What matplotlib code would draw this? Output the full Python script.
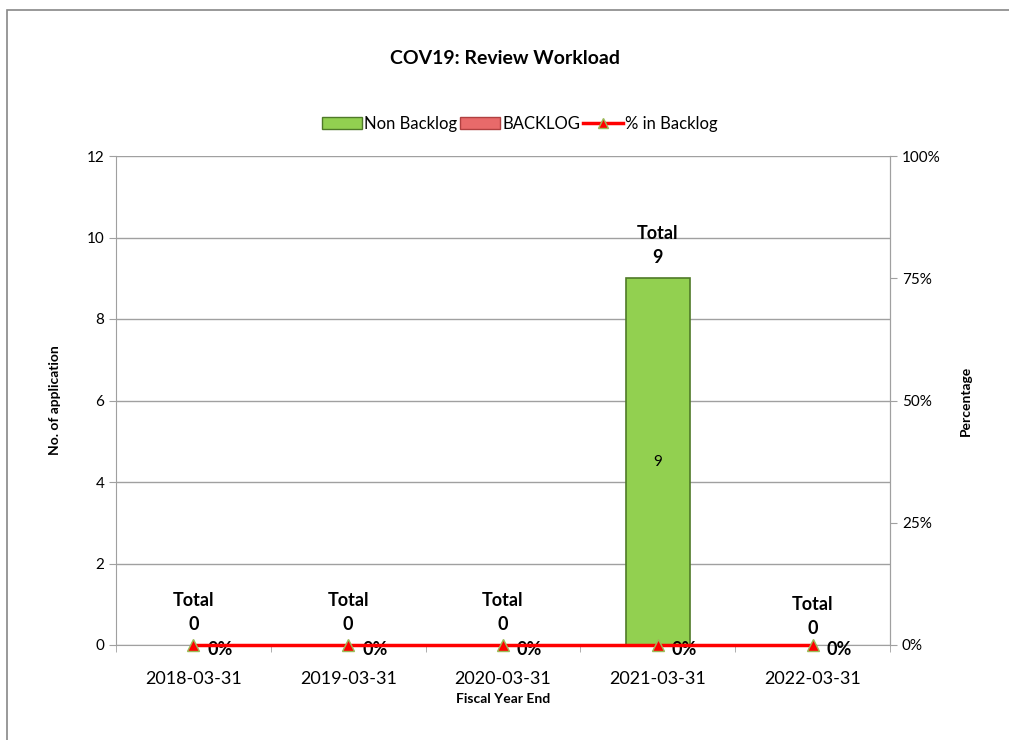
import matplotlib
matplotlib.use("Agg")
import matplotlib.pyplot as plt
from matplotlib.patches import Rectangle
from matplotlib.lines import Line2D
from matplotlib.ticker import FixedLocator

plt.rcParams['font.family'] = ['Lato', 'DejaVu Sans']

categories = ["2018-03-31", "2019-03-31", "2020-03-31", "2021-03-31", "2022-03-31"]
non_backlog = [0, 0, 0, 9, 0]
backlog = [0, 0, 0, 0, 0]
pct_backlog = [0, 0, 0, 0, 0]
totals = [a + b for a, b in zip(non_backlog, backlog)]

fig = plt.figure(figsize=(10.09, 7.40), dpi=100)
# outer chart border
fig.patches.append(Rectangle((7/1009, -0.01), 1.1, 1 - 10/740 + 0.01, transform=fig.transFigure,
                             fill=False, edgecolor="#888888", linewidth=1.2))

ax = fig.add_axes([116/1009, 1 - 645/740, (890 - 116)/1009, (645 - 156)/740])
ax2 = ax.twinx()

x = list(range(len(categories)))
bw = 0.41
nb_lw = [1.2 if v > 0 else 0 for v in non_backlog]
bl_lw = [1.2 if v > 0 else 0 for v in backlog]
bars1 = ax.bar(x, non_backlog, bw, color="#92D050", edgecolor="#4F7A28", zorder=3,
               label="Non Backlog")
for b, lw in zip(bars1, nb_lw):
    b.set_linewidth(lw)
bars2 = ax.bar(x, backlog, bw, bottom=non_backlog, color="#E86A6A", edgecolor="#B04040",
               zorder=3, label="BACKLOG")
for b, lw in zip(bars2, bl_lw):
    b.set_linewidth(lw)

ax.set_ylim(0, 12)
ax.set_xlim(-0.5, len(categories) - 0.5)
ax.set_yticks(range(0, 13, 2))
ax.grid(axis="y", color="#A0A0A0", linewidth=1, zorder=0)
ax.set_xticks(x)
ax.set_xticklabels(categories, fontsize=13)
ax.xaxis.set_minor_locator(FixedLocator([i + 0.5 for i in range(-1, len(categories))]))
ax.tick_params(axis="x", which="major", length=0, pad=19)
ax.tick_params(axis="x", which="minor", length=5, color="#A0A0A0", direction="out")
ax.tick_params(axis="y", length=5, color="#A0A0A0", labelsize=11)
ax.spines["top"].set_visible(False)
for s in ["left", "right", "bottom"]:
    ax.spines[s].set_color("#A0A0A0")

ax.set_ylabel("No. of application", fontsize=10, fontweight="bold", labelpad=18)
ax.set_xlabel("Fiscal Year End", fontsize=10, fontweight="bold", labelpad=4)

# value label inside bar
for xi, v in zip(x, non_backlog):
    if v > 0:
        ax.text(xi, v / 2, str(v), ha="center", va="center", fontsize=11, zorder=5)

# total labels
for xi, t in zip(x, totals):
    off = -0.1 if xi == 4 else 0
    ax.text(xi, t + 0.3 + off, f"Total\n{t}", ha="center", va="bottom",
            fontsize=13, fontweight="bold", linespacing=1.5, zorder=5)

ax2.set_ylim(0, 1)
ax2.set_yticks([0, 0.25, 0.5, 0.75, 1.0])
ax2.set_yticklabels(["0%", "25%", "50%", "75%", "100%"])
ax2.tick_params(axis="y", length=5, color="#A0A0A0", labelsize=11)
for s in ["top", "left", "bottom"]:
    ax2.spines[s].set_visible(False)
ax2.spines["right"].set_color("#A0A0A0")
ax2.set_ylabel("Percentage", fontsize=10, fontweight="bold", labelpad=14)
ax2.plot(x, pct_backlog, color="#FF0000", linewidth=2.5, marker="^", markersize=8,
         markerfacecolor="#FF0000", markeredgecolor="#9BBB59", markeredgewidth=1, zorder=6,
         clip_on=False, label="% in Backlog")
for xi, p in zip(x, pct_backlog):
    ax2.annotate(f"{p:.0%}", (xi, p), xytext=(10, -3), textcoords="offset points",
                 ha="left", va="center", fontsize=13, fontweight="bold", annotation_clip=False)

fig.text(505/1009, 1 - 58/740, "COV19: Review Workload", ha="center", va="center",
         fontsize=14, fontweight="bold")

handles = [Rectangle((0, 0), 1, 1, facecolor="#92D050", edgecolor="#4F7A28"),
           Rectangle((0, 0), 1, 1, facecolor="#E86A6A", edgecolor="#B04040"),
           Line2D([], [], color="#FF0000", linewidth=2.5, marker="^", markersize=7,
                  markerfacecolor="#FF0000", markeredgecolor="#9BBB59")]
fig.legend(handles, ["Non Backlog", "BACKLOG", "% in Backlog"], loc="center",
           bbox_to_anchor=(520/1009, 1 - 124/740), ncol=3, frameon=False, fontsize=12,
           handlelength=2.4, handleheight=0.7, handletextpad=0.1, columnspacing=0.2)

fig.savefig("out.png", dpi=100)
